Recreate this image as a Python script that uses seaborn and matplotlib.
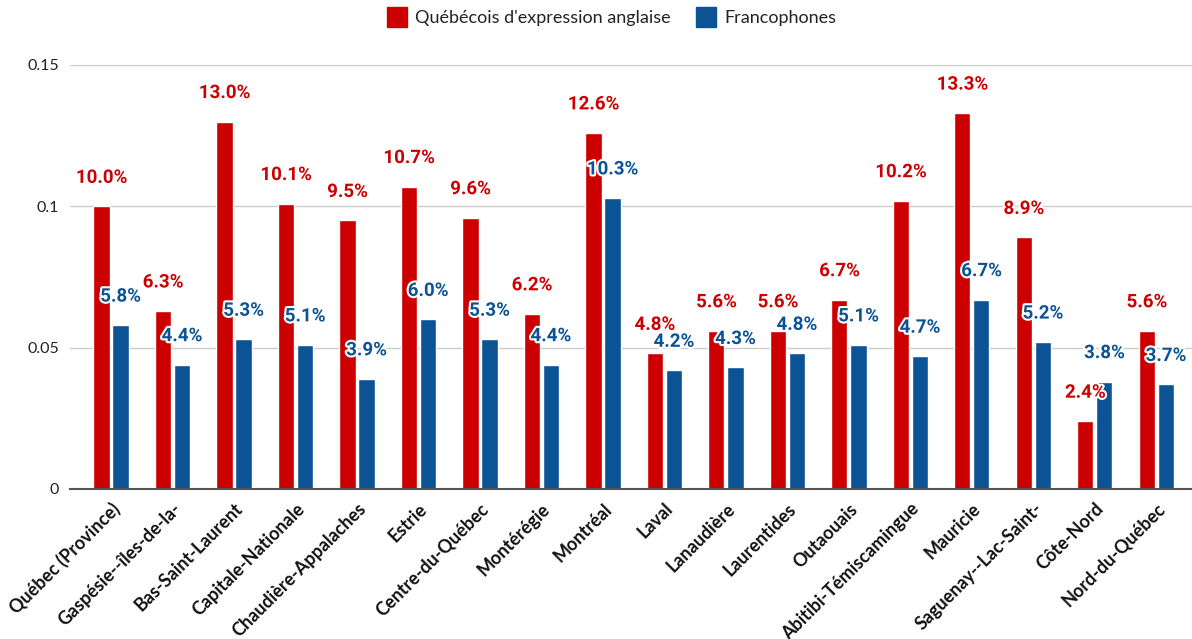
import matplotlib
matplotlib.use("Agg")
import matplotlib.pyplot as plt
import matplotlib.patheffects as pe
from matplotlib.lines import Line2D
import seaborn as sns
import pandas as pd

regions = ["Québec (Province)", "Gaspésie--îles-de-la-", "Bas-Saint-Laurent", "Capitale-Nationale",
           "Chaudière-Appalaches", "Estrie", "Centre-du-Québec", "Montérégie", "Montréal", "Laval",
           "Lanaudière", "Laurentides", "Outaouais", "Abitibi-Témiscamingue", "Mauricie",
           "Saguenay--Lac-Saint-", "Côte-Nord", "Nord-du-Québec"]
anglo = [0.100, 0.063, 0.130, 0.101, 0.095, 0.107, 0.096, 0.062, 0.126, 0.048,
         0.056, 0.056, 0.067, 0.102, 0.133, 0.089, 0.024, 0.056]
franco = [0.058, 0.044, 0.053, 0.051, 0.039, 0.060, 0.053, 0.044, 0.103, 0.042,
          0.043, 0.048, 0.051, 0.047, 0.067, 0.052, 0.038, 0.037]
series = ["Québécois d'expression anglaise", "Francophones"]
yticks = [0, 0.05, 0.1, 0.15]
ytick_labels = ["0", "0.05", "0.1", "0.15"]

RED = "#CC0000"
BLUE = "#0B5394"

sns.set_style("white")
plt.rcParams["font.family"] = ["Lato", "DejaVu Sans"]

df = pd.DataFrame({
    "region": regions * 2,
    "value": anglo + franco,
    "groupe": [series[0]] * len(regions) + [series[1]] * len(regions),
})

fig = plt.figure(figsize=(11.92, 6.39), dpi=100)
W, H = 1192, 639
ax = fig.add_axes([70 / W, (H - 489) / H, 1 - 70 / W, (489 - 65) / H])

sns.barplot(data=df, x="region", y="value", hue="groupe", hue_order=series,
            palette=[RED, BLUE], width=0.62, gap=0.15, ax=ax, legend=False,
            saturation=1, errorbar=None)

ax.set_ylim(0, 0.15)
ax.set_xlim(-0.667, 17.58)
ax.set_yticks(yticks)
ax.set_yticklabels(ytick_labels, fontsize=11.5, color="#222222")
ax.tick_params(axis="y", length=0, pad=8)
ax.tick_params(axis="x", length=0, pad=8)
ax.yaxis.grid(True, color="#cccccc", linewidth=1)
ax.set_axisbelow(True)
for s in ["top", "right", "left"]:
    ax.spines[s].set_visible(False)
ax.spines["bottom"].set_color("#555555")
ax.spines["bottom"].set_linewidth(1.5)
ax.set_xlabel("")
ax.set_ylabel("")

ax.set_xticks(range(len(regions)))
ax.set_xticklabels(regions, rotation=45, ha="right", rotation_mode="anchor",
                   fontsize=13, fontweight="bold", color="#111111")

colors = [RED, BLUE]
vals = [anglo, franco]
for cont, col, v in zip(ax.containers, colors, vals):
    texts = ax.bar_label(cont, labels=[f"{x*100:.1f}%" for x in v], padding=14,
                         color=col, fontsize=13.5, fontweight="bold", family="Roboto")
    for t in texts:
        t.set_path_effects([pe.withStroke(linewidth=3, foreground="white")])
        t.set_clip_on(False)

handles = [Line2D([0], [0], marker="s", linestyle="none", markersize=14,
                  markerfacecolor=c, markeredgecolor=c) for c in colors]
fig.legend(handles, series, loc="center", bbox_to_anchor=(612 / W, 1 - 18 / H),
           ncol=2, frameon=False, fontsize=13, handlelength=1.0,
           handletextpad=0.5, columnspacing=1.5, labelcolor="#222222")

fig.savefig("out.png", dpi=100)
